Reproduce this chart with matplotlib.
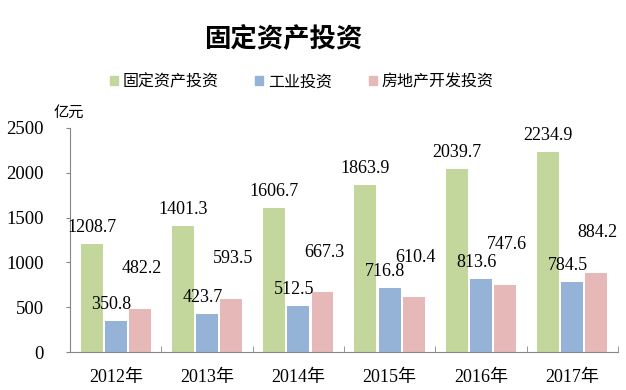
import matplotlib.pyplot as plt
import numpy as np
from matplotlib.patches import Patch

plt.rcParams['font.family'] = ['Liberation Serif', 'Noto Sans CJK SC']

years = ['2012年', '2013年', '2014年', '2015年', '2016年', '2017年']
fixed_asset = [1208.7, 1401.3, 1606.7, 1863.9, 2039.7, 2234.9]
industry = [350.8, 423.7, 512.5, 716.8, 813.6, 784.5]
real_estate = [482.2, 593.5, 667.3, 610.4, 747.6, 884.2]
series_names = ['固定资产投资', '工业投资', '房地产开发投资']
colors = ['#C3D69B', '#95B3D7', '#E6B9B8']

fig = plt.figure(figsize=(6.26, 3.9), dpi=100)
ax = fig.add_axes([0.112, 0.097, 0.875, 0.575])

x = np.arange(len(years))
w = 0.24
gap = 0.025
series = [fixed_asset, industry, real_estate]
# label offsets (points): green/blue just above the bar, pink lifted higher
offsets = [(0, 12), (-3, 12), (1, 29)]
for i, (vals, col) in enumerate(zip(series, colors)):
    pos = x + (i - 1) * (w + gap)
    bars = ax.bar(pos, vals, width=w, color=col, label=series_names[i])
    for b, v in zip(bars, vals):
        ax.annotate(f'{v:.1f}', (b.get_x() + b.get_width() / 2, b.get_height()),
                    xytext=offsets[i], textcoords='offset points',
                    ha='center', va='center', fontsize=13,
                    family='Liberation Serif')

ax.set_xlim(-0.5, len(years) - 0.5)
ax.set_ylim(0, 2500)
ax.set_yticks(range(0, 2501, 500))
ax.set_xticks(x)
ax.set_xticklabels(years)
ax.set_xticks(np.arange(-0.5, len(years)), minor=True)
ax.tick_params(axis='x', which='major', length=0, labelsize=13, pad=12)
ax.tick_params(axis='x', which='minor', direction='in', length=4, color='#868686')
ax.tick_params(axis='y', length=3, color='#868686', labelsize=13.5, pad=16)
for s in ['top', 'right']:
    ax.spines[s].set_visible(False)
for s in ['left', 'bottom']:
    ax.spines[s].set_color('#868686')

fig.text(0.452, 0.898, '固定资产投资', ha='center', va='center',
         fontsize=19, fontweight='bold', family='Noto Sans CJK SC')
fig.text(0.085, 0.713, '亿元', ha='left', va='center', fontsize=11,
         family='Noto Sans CJK SC')

handles = [Patch(color=c) for c in colors]
fig.legend(handles, series_names, loc='center', bbox_to_anchor=(0.482, 0.79),
           ncol=3, frameon=False, handlelength=0.5, handleheight=0.5,
           handletextpad=0.3, columnspacing=2.3,
           prop={'family': 'Noto Sans CJK SC', 'size': 11.5})

fig.savefig('out.png', dpi=100)
